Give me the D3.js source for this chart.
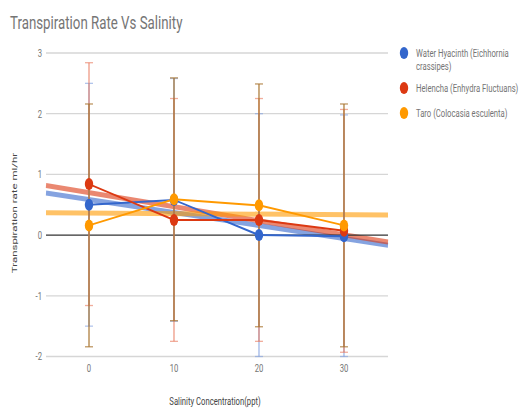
<!DOCTYPE html>
<html>
<head>
<meta charset="utf-8">
<script src="https://cdn.jsdelivr.net/npm/d3@7"></script>
<style>
html, body { margin: 0; padding: 0; background: #fff; }
svg { display: block; font-family: Roboto, "Noto Sans", sans-serif; }
</style>
</head>
<body>
<svg id="chart"></svg>
<script>
// data
const salinity = [0, 10, 20, 30];
const seriesNames = ["Water Hyacinth (Eichhornia crassipes)", "Helencha (Enhydra Fluctuans)", "Taro (Colocasia esculenta)"];
const waterHyacinth = [0.50, 0.58, 0.00, -0.02];
const helencha = [0.84, 0.25, 0.25, 0.07];
const taro = [0.16, 0.59, 0.49, 0.16];
const errWaterHyacinth = [2, 2, 2, 2];
const errHelencha = [2, 2, 2, 2];
const errTaro = [2, 2, 2, 2];
const xTicks = [0, 10, 20, 30];
const yTicks = [-2, -1, 0, 1, 2, 3];

// the whole picture is squeezed horizontally
const squeeze = 0.7;
const W = 522, H = 409;
const VW = W / squeeze;
const vx = px => px / squeeze;

const svg = d3.select('#chart')
  .attr('width', W).attr('height', H)
  .attr('viewBox', `0 0 ${VW} ${H}`)
  .attr('preserveAspectRatio', 'none');

const left = vx(46), right = vx(388);
const x = d3.scaleLinear().domain([-5.06, 35.18]).range([left, right]);
const y = d3.scaleLinear().domain([-2, 3]).range([356.5, 53]);

const colors = ['#3366cc', '#dc3912', '#ff9900'];
const barColors = ['#7f9ee0', '#e8775a', '#a8742f'];
const series = [
  {name: seriesNames[0], values: waterHyacinth, err: errWaterHyacinth},
  {name: seriesNames[1], values: helencha, err: errHelencha},
  {name: seriesNames[2], values: taro, err: errTaro}
];

// title
svg.append('text')
  .attr('x', vx(10)).attr('y', 29)
  .attr('font-size', 19).attr('fill', '#757575')
  .text('Transpiration Rate Vs Salinity');

// gridlines
svg.append('g').selectAll('line')
  .data(yTicks.filter(d => d !== 0))
  .enter().append('line')
  .attr('x1', left).attr('x2', right)
  .attr('y1', d => y(d)).attr('y2', d => y(d))
  .attr('stroke', '#d6d6d6').attr('stroke-width', 1.3);

// y axis labels
svg.append('g').selectAll('text')
  .data(yTicks)
  .enter().append('text')
  .attr('x', vx(42)).attr('y', d => y(d) + 4)
  .attr('text-anchor', 'end')
  .attr('font-size', 11).attr('fill', '#757575')
  .text(d => d);

// x axis labels
svg.append('g').selectAll('text')
  .data(xTicks)
  .enter().append('text')
  .attr('x', d => x(d)).attr('y', 372)
  .attr('text-anchor', 'middle')
  .attr('font-size', 11).attr('fill', '#757575')
  .text(d => d);

// axis titles
svg.append('text')
  .attr('x', vx(215)).attr('y', 405)
  .attr('text-anchor', 'middle')
  .attr('font-size', 11).attr('fill', '#444')
  .text('Salinity Concentration(ppt)');

svg.append('text')
  .attr('transform', `translate(${vx(17)},213) rotate(-90)`)
  .attr('text-anchor', 'middle')
  .attr('font-size', 11.5).attr('fill', '#444')
  .text('Transpiration rate ml/hr');

// trend lines (least squares on each series)
series.forEach((s, i) => {
  const mx = d3.mean(salinity), my = d3.mean(s.values);
  const sxy = d3.sum(salinity, (d, j) => (d - mx) * (s.values[j] - my));
  const sxx = d3.sum(salinity, d => (d - mx) * (d - mx));
  const slope = sxy / sxx, icpt = my - slope * mx;
  const [d0, d1] = x.domain();
  svg.append('line')
    .attr('x1', x(d0)).attr('x2', x(d1))
    .attr('y1', y(icpt + slope * d0)).attr('y2', y(icpt + slope * d1))
    .attr('stroke', colors[i]).attr('stroke-width', 5)
    .attr('stroke-opacity', 0.6);
});

// zero line
svg.append('line')
  .attr('x1', left).attr('x2', right)
  .attr('y1', y(0)).attr('y2', y(0))
  .attr('stroke', '#333').attr('stroke-width', 1.3);

// error bars
series.forEach((s, i) => {
  const g = svg.append('g')
    .attr('stroke', barColors[i])
    .attr('stroke-opacity', i === 2 ? 0.75 : 0.6);
  salinity.forEach((sv, j) => {
    const hi = y(s.values[j] + s.err[j]);
    const lo = y(Math.max(-2, s.values[j] - s.err[j]));
    g.append('line').attr('x1', x(sv)).attr('x2', x(sv))
      .attr('y1', hi).attr('y2', lo).attr('stroke-width', 2.3);
    [hi, lo].forEach(yy => {
      g.append('line').attr('x1', x(sv) - vx(4)).attr('x2', x(sv) + vx(4))
        .attr('y1', yy).attr('y2', yy).attr('stroke-width', 1.3);
    });
  });
});

// series lines and points
const line = d3.line().x((d, j) => x(salinity[j])).y(d => y(d));
series.forEach((s, i) => {
  svg.append('path')
    .datum(s.values)
    .attr('d', line)
    .attr('fill', 'none')
    .attr('stroke', colors[i]).attr('stroke-width', 2);
});
series.forEach((s, i) => {
  svg.append('g').selectAll('ellipse')
    .data(s.values)
    .enter().append('ellipse')
    .attr('cx', (d, j) => x(salinity[j]))
    .attr('cy', d => y(d))
    .attr('rx', 6).attr('ry', 6)
    .attr('fill', colors[i]);
});

// legend
const legendY = [53, 88, 113];
const legendLines = [["Water Hyacinth (Eichhornia", "crassipes)"], ["Helencha (Enhydra Fluctuans)"], ["Taro (Colocasia esculenta)"]];
legendLines.forEach((lines, i) => {
  svg.append('ellipse')
    .attr('cx', vx(404)).attr('cy', legendY[i])
    .attr('rx', 6).attr('ry', 6)
    .attr('fill', colors[i]);
  const t = svg.append('text')
    .attr('x', vx(416)).attr('y', legendY[i] + 4)
    .attr('font-size', 11).attr('fill', '#757575');
  lines.forEach((l, k) => {
    t.append('tspan').attr('x', vx(416)).attr('dy', k === 0 ? 0 : 13).text(l);
  });
});
</script>
</body>
</html>
